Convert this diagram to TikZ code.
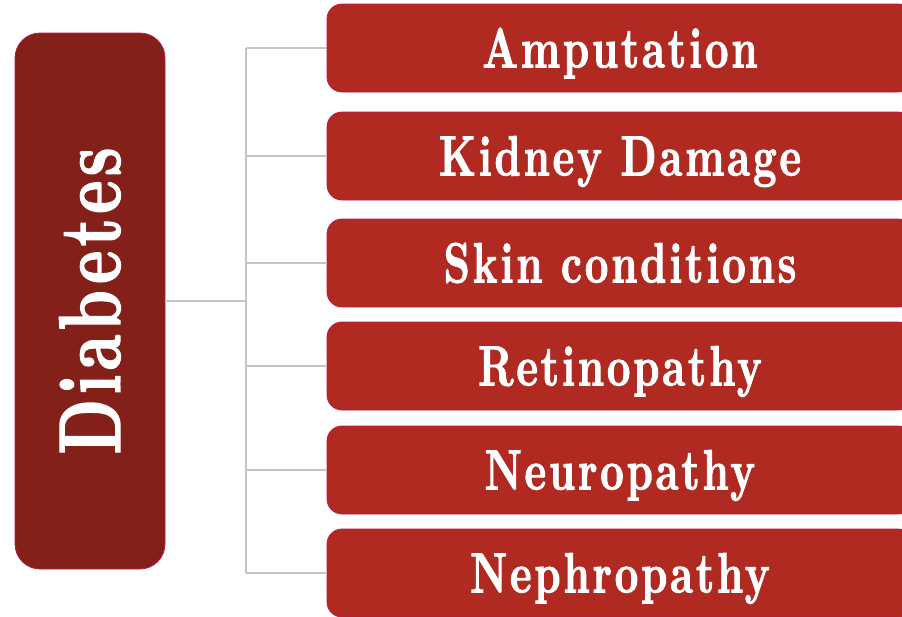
\documentclass[tikz,border=0pt]{standalone}
\usepackage{fontspec}
\newfontfamily\labfont[FakeStretch=0.72,LetterSpace=5,FakeBold=1.6]{lmroman10-bold.otf}
\definecolor{darkbox}{HTML}{84201A}
\definecolor{lightbox}{HTML}{B02A21}
\definecolor{edgecol}{HTML}{C0184A}
\definecolor{linecol}{HTML}{C4C4C4}
\tikzset{
  mainbox/.style={draw=edgecol, line width=0.8pt, fill=darkbox, rounded corners=25pt,
    rotate=90, minimum width=536pt, minimum height=150pt, inner sep=0pt,
    text=white, font=\labfont\fontsize{87.5}{90}\selectfont, text height=60pt, text depth=0pt},
  itembox/.style={draw=edgecol, line width=0.8pt, fill=lightbox, rounded corners=15pt,
    minimum width=586pt, minimum height=88pt, inner sep=0pt,
    text=white, font=\labfont\fontsize{56.9}{60}\selectfont, text height=39pt, text depth=0pt},
  link/.style={draw=linecol, line width=1.5pt}
}
\begin{document}
\begin{tikzpicture}[x=1pt,y=-1pt]
\useasboundingbox (0,0) rectangle (902,616);
\clip (0,0) rectangle (902,616);
\node[mainbox] (diab) at (90,301) {Diabetes};
\node[itembox] (a1) at (620,48) {Amputation};
\node[itembox] (a2) at (620,156) {Kidney Damage};
\node[itembox] (a3) at (620,263) {Skin conditions};
\node[itembox] (a4) at (620,366) {Retinopathy};
\node[itembox] (a5) at (620,470) {Neuropathy};
\node[itembox] (a6) at (620,573) {Nephropathy};
\coordinate (hub) at (246,301);
\coordinate (top) at (246,48);
\coordinate (bot) at (246,573);
\draw[link] (diab.south) -- (hub);
\draw[link] (top) -- (bot);
\foreach \i in {1,...,6} {
  \draw[link] (a\i.west -| hub) -- (a\i.west);
}
\end{tikzpicture}
\end{document}
